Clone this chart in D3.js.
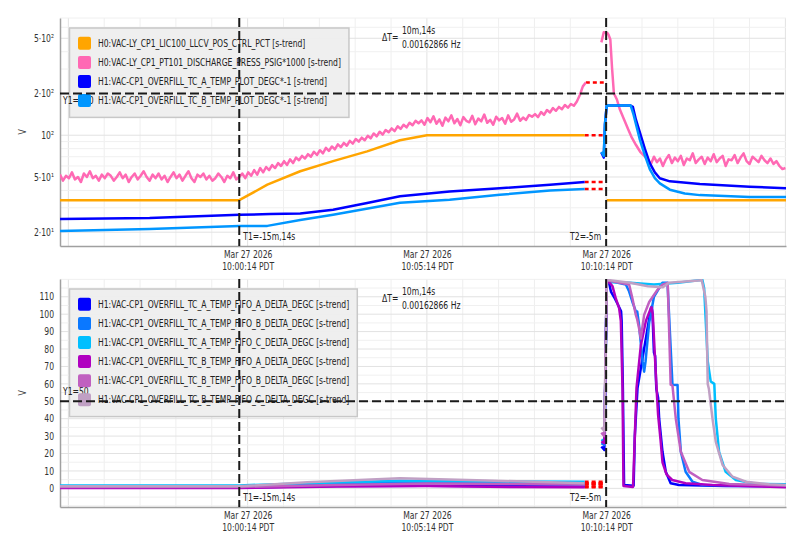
<!DOCTYPE html>
<html>
<head>
<meta charset="utf-8">
<script src="https://cdn.jsdelivr.net/npm/d3@7"></script>
<style>
body { margin: 0; background: #fff; }
text { font-family: "DejaVu Sans Condensed", "Liberation Sans Narrow", sans-serif; }
</style>
</head>
<body>
<div id="chart"></div>
<script>
// all times are seconds relative to the T2 cursor (Mar 27 2026 10:10:14 PDT)
let T2 = new Date(2026, 2, 27, 10, 10, 14);
let T1sec = -614;

// ---- top panel data ----
let topNames = [
    "H0:VAC-LY_CP1_LIC100_LLCV_POS_CTRL_PCT [s-trend]",
    "H0:VAC-LY_CP1_PT101_DISCHARGE_PRESS_PSIG*1000 [s-trend]",
    "H1:VAC-CP1_OVERFILL_TC_A_TEMP_PLOT_DEGC*-1 [s-trend]",
    "H1:VAC-CP1_OVERFILL_TC_B_TEMP_PLOT_DEGC*-1 [s-trend]"
];
let topColors = ["#ffa500", "#ff69b4", "#0000ff", "#0096ff"];
let topTickVals = [20, 50, 100, 200, 500];
let topTickLabels = ["2·10¹", "5·10¹", "10²", "2·10²", "5·10²"];

let lic100Before = [[-914,34],[-614,34],[-567,44],[-512,55],[-457,65],[-400,76.5],[-345,92],[-300,100],[-36,100]];
let lic100After = [[1,34],[301,34]];

// PT101 before the gap: one value every 5 s from -914 s
let pt101BeforeStart = -914, pt101BeforeStep = 5;
let pt101Before = [
    52,47,51,49,54,48,50,46,53,50,55,49,51,47,52,49,53,51,47,50,54,49,52,46,50,53,48,51,55,50,
    47,52,49,53,48,51,46,50,54,49,52,47,51,55,49,46,52,50,53,48,51,47,49,53,50,46,51,49,54,48,50,
    53,49,54,51,56,52,58,54,59,56,61,58,63,60,65,61,67,63,69,66,71,68,73,70,76,72,78,74,81,77,
    83,79,86,82,88,84,91,87,94,90,96,92,99,95,103,98,106,101,109,105,112,107,116,111,119,114,123,118,127,122,
    128,119,133,124,137,121,130,117,134,126,139,122,131,118,135,127,124,138,120,132,
    126,141,123,129,119,136,128,133,121,139,125,130,143,127,134,129,140,136,
    142,135,147,140,152,146,157,150,160,154,165,158,168,163,175,195,225,240
];
let pt101AfterFast = [[-8,467],[-4,552],[2,545],[4,530],[7,490],[10,300],[13,200],[18,181],[23,153],[30,130],[37,110],[43,96],[50,85],[57,76],[65,70]];
// then one value every 5 s from +70 s
let pt101AfterStart = 70, pt101AfterStep = 5;
let pt101After = [67,62,70,64,68,60,67,72,63,69,65,71,61,68,66,74,63,67,70,62,69,65,73,64,68,71,60,67,66,72,63,69,74,65,62,70,67,64,71,66,63,68,62,65,60,57,58];

let tcAPlotBefore = [[-914,24.9],[-764,25.3],[-614,26.7],[-562,27],[-512,27.3],[-457,29],[-400,32.5],[-345,36.3],[-262,39.3],[-178,41.5],[-94,43.9],[-36,46]];
let tcAPlotAfter = [[-8,75],[-4,69],[-2,120],[1,164],[40,164],[44.7,160],[49.7,130],[56.4,105],[64.7,80],[73,63],[81.5,54],[89.8,49],[106.6,46.5],[156.8,44.5],[240,42.5],[301,41.5]];
let tcBPlotBefore = [[-914,20.4],[-764,21.1],[-614,22.2],[-567,22.2],[-512,24.5],[-457,26.7],[-345,32.6],[-262,34.3],[-178,37.2],[-94,39.9],[-36,41]];
let tcBPlotAfter = [[-8,76],[-4,71],[-2,120],[1,164],[41,164],[46,140],[51,115],[56.4,93],[64.7,72],[73,57],[81.5,49],[89.8,45],[106.6,40.5],[131.6,38],[156.8,37],[240,35.8],[301,35.8]];

// ---- bottom panel data ----
let bottomNames = [
    "H1:VAC-CP1_OVERFILL_TC_A_TEMP_FIFO_A_DELTA_DEGC [s-trend]",
    "H1:VAC-CP1_OVERFILL_TC_A_TEMP_FIFO_B_DELTA_DEGC [s-trend]",
    "H1:VAC-CP1_OVERFILL_TC_A_TEMP_FIFO_C_DELTA_DEGC [s-trend]",
    "H1:VAC-CP1_OVERFILL_TC_B_TEMP_FIFO_A_DELTA_DEGC [s-trend]",
    "H1:VAC-CP1_OVERFILL_TC_B_TEMP_FIFO_B_DELTA_DEGC [s-trend]",
    "H1:VAC-CP1_OVERFILL_TC_B_TEMP_FIFO_C_DELTA_DEGC [s-trend]"
];
let bottomColors = ["#0000ff", "#0a78ff", "#00bfff", "#b000c0", "#c060c0", "#c0a0c4"];
let bottomTickVals = [0, 10, 20, 30, 40, 50, 60, 70, 80, 90, 100, 110];

let fifoAABefore = [[-914,0.5],[-614,0.5],[-450,1.3],[-300,1.5],[-150,1.2],[-36,1.0]];
let fifoAAAfter = [[-8,24],[-3,22],[1,119],[4.5,118.8],[8,113],[13,110],[19,106],[25,101.6],[26,96],[28,57.6],[30,1.9],[46,1.5],[48,30],[52.5,57.6],[75,103.5],[76.5,104.5],[77.6,99.6],[80,78],[82,76],[84,57],[87,52],[88.7,40],[94.3,21],[99.8,9.5],[108,2.9],[122,1.9],[200,1.3],[301,1.2]];
let fifoABBefore = [[-914,1.0],[-614,1.0],[-450,2.5],[-300,3.5],[-150,3.0],[-36,2.6]];
let fifoABAfter = [[-8,26],[-3,25],[1,119.5],[33,117],[38.5,113],[44,107],[49.7,101.6],[52,101.6],[55,94],[61,73],[63.6,67],[66,73],[72,95],[80,110],[94,118],[102.7,118],[111,59.5],[119.5,59.3],[121,40],[125,21],[133,9.5],[144.5,3.8],[161,2],[301,1.5]];
let fifoACBefore = [[-914,1.7],[-614,1.7],[-500,3.0],[-345,4.3],[-200,4.0],[-36,3.8]];
let fifoACAfter = [[-8,28],[-3,27],[1,118.5],[40,118],[80,117],[120,118],[161,119.7],[164,115],[170,73],[175,61.4],[181,60],[183.5,40],[189,21],[200,9.5],[217,4.8],[250,2.6],[301,2.3]];
let fifoBABefore = [[-914,0.2],[-614,0.2],[-450,1.0],[-300,1.3],[-150,0.8],[-36,0.6]];
let fifoBAAfter = [[-8,27],[-3,26],[1,119],[6,118],[10.7,116],[16.2,109],[21.7,103.5],[24.6,96],[27.4,57.6],[29,1.3],[45,0.8],[47,20],[50.8,57.6],[58,82],[66.4,96],[74.8,103.5],[76,104],[78,100],[84,60],[87,42],[91,28],[94.3,15],[101,8],[110.6,4.8],[133,2.9],[178,1.9],[301,0.7]];
let fifoBBBefore = [[-914,0.8],[-614,0.8],[-450,2.0],[-300,2.8],[-150,2.5],[-36,2.2]];
let fifoBBAfter = [[-8,32],[-3,30],[1,119.5],[38.5,117],[44,109],[49.7,99.6],[52,97],[55,92],[58,86],[63.6,99.6],[72,107],[86,114],[94,117],[103,118],[104.5,101.6],[108,59.5],[111,59],[116.6,40],[125,21],[139,9.5],[161,4.8],[206,2.5],[262,1.9],[301,1.5]];
let fifoBCBefore = [[-914,1.2],[-614,1.2],[-500,3.5],[-345,5.8],[-200,4.5],[-36,3.0]];
let fifoBCAfter = [[-8,35],[-3,33],[1,119.7],[40,118],[70,116],[95,115.5],[105,118],[160,119.5],[166,110],[168,101.6],[170,60],[172,57],[178,40],[183.5,26.7],[195,13.4],[211.5,6.7],[234,3.8],[273,2.3],[301,1.9]];

let gapEnd = -4;

// the trend tool uses a narrow face; squeeze the condensed font to match
let squeezeRatio = 0.85;

function at(s) {
    return new Date(T2.getTime() + s * 1000);
}

function stepped(start, step, values) {
    return values.map(function(v, i) { return [start + i * step, v]; });
}

function squeeze(sel) {
    sel.each(function() {
        let w = this.getComputedTextLength();
        d3.select(this)
            .attr("textLength", w * squeezeRatio)
            .attr("lengthAdjust", "spacingAndGlyphs");
    });
    return sel;
}

function label(g, x, y, str) {
    let t = g.append("text")
        .attr("x", x).attr("y", y)
        .attr("font-size", 10).attr("fill", "#222")
        .text(str);
    squeeze(t);
    return t;
}

function main() {
    let svg = d3.select("#chart").append("svg")
        .attr("width", 804)
        .attr("height", 551);

    let xScale = d3.scaleTime().domain([at(-914), at(301)]).range([60, 786]);

    let topY = d3.scaleLog().domain([15.9, 700]).range([246, 18]);
    let bottomY = d3.scaleLinear().domain([-10.7, 120.2]).range([507, 279]);

    let topSeries = [
        [lic100Before, lic100After],
        [stepped(pt101BeforeStart, pt101BeforeStep, pt101Before),
            pt101AfterFast.concat(stepped(pt101AfterStart, pt101AfterStep, pt101After))],
        [tcAPlotBefore, tcAPlotAfter],
        [tcBPlotBefore, tcBPlotAfter]
    ];
    let bottomSeries = [
        [fifoAABefore, fifoAAAfter],
        [fifoABBefore, fifoABAfter],
        [fifoACBefore, fifoACAfter],
        [fifoBABefore, fifoBAAfter],
        [fifoBBBefore, fifoBBAfter],
        [fifoBCBefore, fifoBCAfter]
    ];

    let topGrid = [20,30,40,50,60,70,80,90,100,200,300,400,500,600,700];
    let bottomGrid = d3.range(-10, 121, 5);

    drawPanel(svg, xScale, topY, {
        id: "top", top: 18, bottom: 246,
        grid: topGrid, ticks: topTickVals,
        fmt: function(d) { return topTickLabels[topTickVals.indexOf(d)]; },
        series: topSeries, names: topNames, colors: topColors,
        y1: 200, y1Text: "Y1=200", y1TextY: 103.5
    });
    drawPanel(svg, xScale, bottomY, {
        id: "bottom", top: 279, bottom: 507,
        grid: bottomGrid, ticks: bottomTickVals,
        fmt: function(d) { return d; },
        series: bottomSeries, names: bottomNames, colors: bottomColors,
        y1: 50, y1Text: "Y1=50", y1TextY: 395
    });
}

function drawPanel(svg, xScale, yScale, p) {
    let left = 60, right = 786;
    let g = svg.append("g");

    g.append("clipPath").attr("id", "clip-" + p.id)
        .append("rect")
        .attr("x", left).attr("y", p.top)
        .attr("width", right - left).attr("height", p.bottom - p.top);

    // grid
    let minutes = d3.range(-900, 302, 60).map(at);
    g.append("g").selectAll("line")
        .data(minutes).enter().append("line")
        .attr("x1", function(d) { return xScale(d); })
        .attr("x2", function(d) { return xScale(d); })
        .attr("y1", p.top).attr("y2", p.bottom)
        .attr("stroke", function(d, i) { return i % 5 == 0 ? "#e2e2e2" : "#efefef"; })
        .attr("stroke-width", 1);
    g.append("g").selectAll("line")
        .data(p.grid).enter().append("line")
        .attr("x1", left).attr("x2", right)
        .attr("y1", function(d) { return yScale(d); })
        .attr("y2", function(d) { return yScale(d); })
        .attr("stroke", function(d) { return p.ticks.indexOf(d) >= 0 ? "#e2e2e2" : "#f0f0f0"; })
        .attr("stroke-width", 1);

    // axes
    let xAxis = g.append("g")
        .attr("transform", "translate(0," + p.bottom + ")")
        .call(d3.axisBottom(xScale).tickValues([at(-600), at(-300), at(0)]).tickSize(0));
    xAxis.selectAll(".tick text").each(function(d) {
        let t = d3.select(this);
        t.text(null).attr("y", 11.5).attr("dy", 0);
        t.append("tspan").attr("x", 0).text(d3.timeFormat("%b %d %Y")(d));
        t.append("tspan").attr("x", 0).attr("dy", 12.5).text(d3.timeFormat("%H:%M:%S")(d) + " PDT");
    });
    let yAxis = g.append("g")
        .attr("transform", "translate(" + left + ",0)")
        .call(d3.axisLeft(yScale).tickValues(p.ticks).tickFormat(p.fmt).tickSize(0).tickPadding(6));
    [xAxis, yAxis].forEach(function(a) {
        a.attr("font-family", null);
        a.select(".domain").attr("stroke", "#a0a0a0").attr("stroke-width", 1.5);
        a.selectAll(".tick text").attr("fill", "#333").attr("font-size", 10);
    });
    squeeze(xAxis.selectAll(".tick tspan"));
    squeeze(yAxis.selectAll(".tick text"));

    squeeze(g.append("text")
        .attr("transform", "translate(26," + ((p.top + p.bottom) / 2) + ") rotate(-90)")
        .attr("text-anchor", "middle")
        .attr("font-size", 10)
        .attr("fill", "#333")
        .text("V"));

    // series, with red dashes across the data gap before T2
    let line = d3.line()
        .x(function(d) { return xScale(at(d[0])); })
        .y(function(d) { return yScale(d[1]); });
    let plot = g.append("g").attr("clip-path", "url(#clip-" + p.id + ")");
    p.series.forEach(function(s) {
        let last = s[0][s[0].length - 1];
        plot.append("path")
            .attr("d", line([last, [gapEnd, last[1]]]))
            .attr("fill", "none")
            .attr("stroke", "#ff0000")
            .attr("stroke-width", 2.5)
            .attr("stroke-dasharray", "4,3");
    });
    p.series.forEach(function(s, i) {
        s.forEach(function(seg) {
            plot.append("path")
                .attr("d", line(seg))
                .attr("fill", "none")
                .attr("stroke", p.colors[i])
                .attr("stroke-width", 2.5)
                .attr("stroke-linejoin", "round");
        });
    });

    // legend
    let box = g.append("rect")
        .attr("x", 69.5).attr("y", p.top + 10)
        .attr("height", p.names.length * 19.1 + 13)
        .attr("fill", "#eeeeee")
        .attr("fill-opacity", 0.95)
        .attr("stroke", "#c8c8c8")
        .attr("stroke-width", 1.5);

    label(g, 63, p.y1TextY, p.y1Text);

    let maxW = 0;
    p.names.forEach(function(name, i) {
        let cy = p.top + 25.3 + i * 19.1;
        g.append("rect")
            .attr("x", 78).attr("y", cy - 6.5)
            .attr("width", 13).attr("height", 13)
            .attr("rx", 2)
            .attr("fill", p.colors[i]);
        let t = label(g, 98, cy + 3.5, name);
        maxW = Math.max(maxW, +t.attr("textLength"));
    });
    box.attr("width", 98 + maxW + 8 - 69.5);

    // Y1 cursor and time cursors
    let dash = "9,4";
    g.append("line")
        .attr("x1", left).attr("x2", right)
        .attr("y1", yScale(p.y1)).attr("y2", yScale(p.y1))
        .attr("stroke", "#1a1a1a").attr("stroke-width", 2)
        .attr("stroke-dasharray", dash);
    [T1sec, 0].forEach(function(s) {
        g.append("line")
            .attr("x1", xScale(at(s))).attr("x2", xScale(at(s)))
            .attr("y1", p.top).attr("y2", p.bottom)
            .attr("stroke", "#1a1a1a").attr("stroke-width", 2)
            .attr("stroke-dasharray", dash);
    });

    label(g, xScale(at(T1sec)) + 4, p.bottom - 6.5, "T1=-15m,14s");
    label(g, xScale(at(0)) - 5, p.bottom - 6.5, "T2=-5m").attr("text-anchor", "end");

    label(g, 382, p.top + 22.5, "ΔT=");
    label(g, 402, p.top + 16, "10m,14s");
    label(g, 402, p.top + 29.5, "0.00162866 Hz");
}

main();
</script>
</body>
</html>
